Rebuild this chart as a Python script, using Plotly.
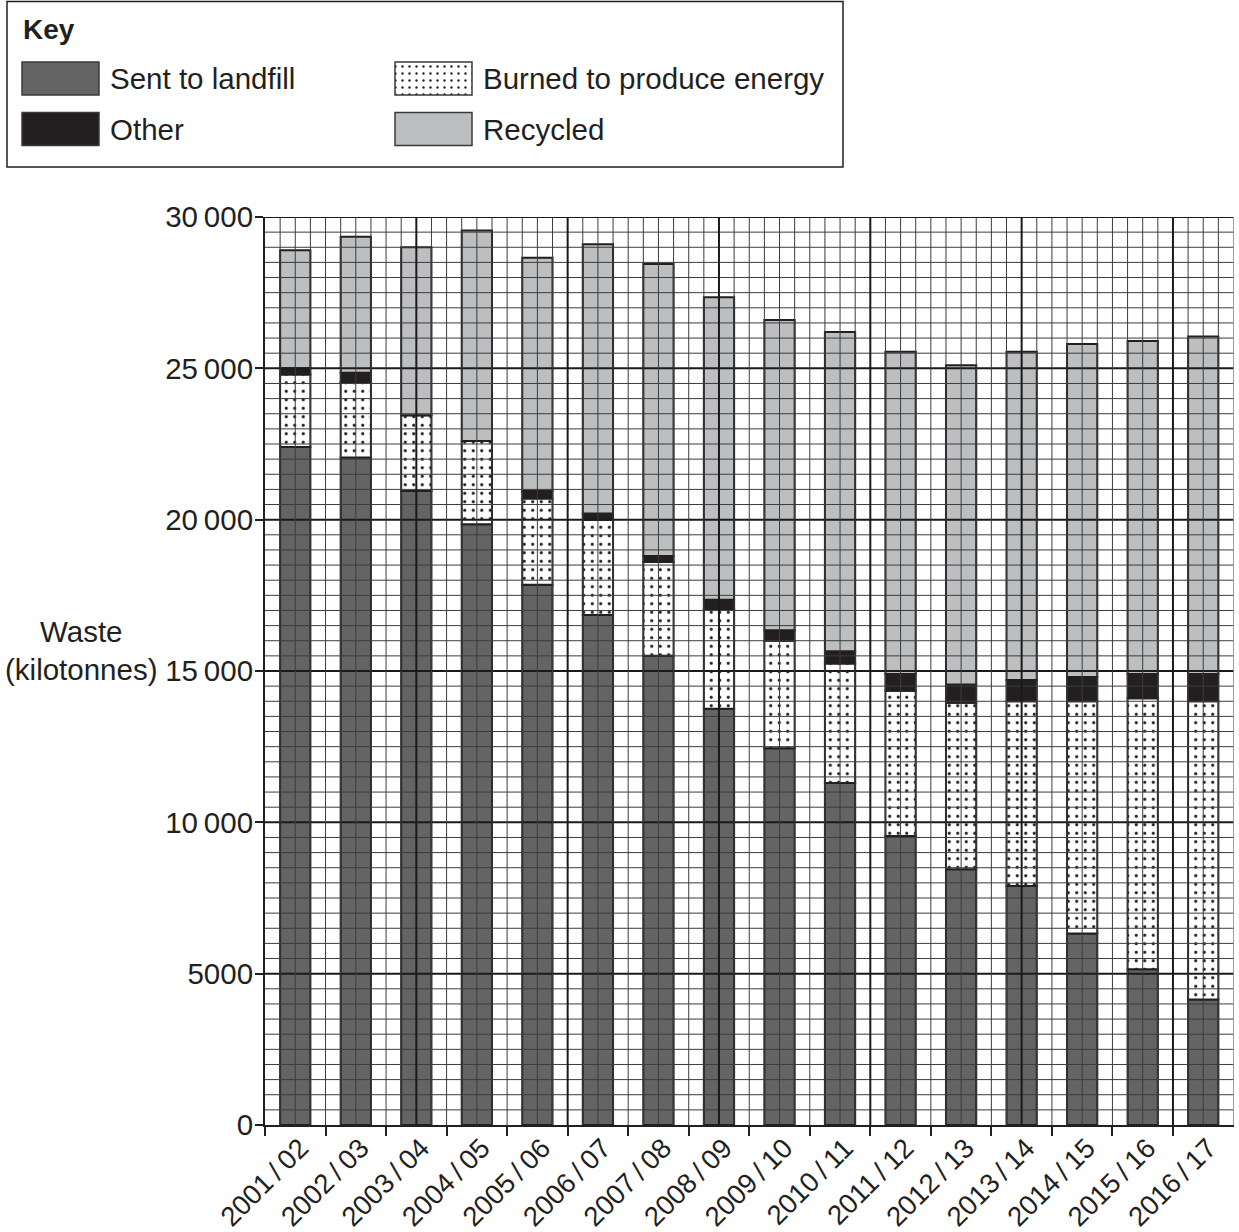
import plotly.graph_objects as go
import numpy as np

W, H = 1239, 1232

years = ["2001/02", "2002/03", "2003/04", "2004/05", "2005/06", "2006/07", "2007/08", "2008/09",
         "2009/10", "2010/11", "2011/12", "2012/13", "2013/14", "2014/15", "2015/16", "2016/17"]
landfill = [22400, 22050, 20950, 19850, 17850, 16850, 15500, 13750, 12450, 11300, 9550, 8450, 7900, 6330, 5150, 4150]
burned = [2400, 2500, 2500, 2750, 2850, 3150, 3100, 3300, 3550, 3950, 4800, 5500, 6100, 7670, 8950, 9850]
other = [200, 300, 0, 0, 250, 200, 200, 300, 350, 400, 550, 600, 700, 800, 800, 900]
recycled = [3900, 4500, 5550, 6950, 7700, 8900, 9650, 10000, 10250, 10550, 10650, 10550, 10850, 11000, 11000, 11150]

y_tickvals = [0, 5000, 10000, 15000, 20000, 25000, 30000]
y_ticktext = ["0", "5000", "10\u2009000", "15\u2009000", "20\u2009000", "25\u2009000", "30\u2009000"]

labels = [y.replace("/", "\u2009/\u2009") for y in years]

FONT = "Liberation Sans, Arial, sans-serif"
INK = "#231f20"
C_LAND = "#646464"
C_OTHER = "#231f20"
C_REC = "#bcbec0"
TXT = 29.5


def px(x):
    return x / W


def py(y):
    return 1 - y / H


base_b = np.array(landfill, dtype=float)
base_o = base_b + np.array(burned)
base_r = base_o + np.array(other)

outline = dict(color=INK, width=2)
dot_pattern = dict(shape=".", fgcolor=INK, bgcolor="white", size=8.5, solidity=0.11, fillmode="replace")
key_dot_pattern = dict(shape=".", fgcolor=INK, bgcolor="white", size=7, solidity=0.09, fillmode="replace")

fig = go.Figure()
fig.add_trace(go.Bar(x=labels, y=landfill, width=0.5, marker=dict(color=C_LAND, line=outline), showlegend=False))
fig.add_trace(go.Bar(x=labels, y=burned, base=base_b, width=0.5,
                     marker=dict(color="white", pattern=dot_pattern, line=outline), showlegend=False))
fig.add_trace(go.Bar(x=labels, y=other, base=base_o, width=0.5, marker=dict(color=C_OTHER, line=outline), showlegend=False))
fig.add_trace(go.Bar(x=labels, y=recycled, base=base_r, width=0.5, marker=dict(color=C_REC, line=outline), showlegend=False))

# Key swatches (on a separate pixel-space axis pair)
sw_line = dict(color="#3a3a3a", width=1.5)
key_items = [
    ("Sent to landfill", 22, 78.5, dict(color=C_LAND, line=sw_line)),
    ("Other", 22, 129, dict(color=C_OTHER, line=sw_line)),
    ("Burned to produce energy", 395, 78.5, dict(color="white", pattern=key_dot_pattern, line=sw_line)),
    ("Recycled", 395, 129, dict(color=C_REC, line=sw_line)),
]
for name, x0, yc, mk in key_items:
    fig.add_trace(go.Bar(x=[77], base=[x0], y=[yc], width=[33], orientation="h", marker=mk,
                         xaxis="x2", yaxis="y2", showlegend=False, hoverinfo="skip"))

MINOR = dict(color="#3c3c3c", width=1)
MAJOR = dict(color="#1a1a1a", width=2)
shapes = []
# Grid over the bars (graph paper)
for k in range(1, 61):
    shapes.append(dict(type="line", xref="x", yref="y", x0=-0.5, x1=15.5, y0=k * 500, y1=k * 500,
                       line=MAJOR if k % 10 == 0 else MINOR, layer="above"))
for j in range(1, 65):
    xv = -0.5 + j * 0.25
    shapes.append(dict(type="line", xref="x", yref="y", x0=xv, x1=xv, y0=0, y1=30000,
                       line=MAJOR if j % 10 == 0 else MINOR, layer="above"))
# Key box
shapes.append(dict(type="rect", xref="paper", yref="paper", x0=px(7), x1=px(843), y0=py(167), y1=py(1.5),
                   line=dict(color=INK, width=1.5), fillcolor="rgba(0,0,0,0)"))

annotations = [
    dict(text="<b>Key</b>", x=px(21), y=py(30), xref="paper", yref="paper", xanchor="left", yanchor="middle",
         showarrow=False, font=dict(size=28, color=INK, family=FONT)),
    dict(text="Waste<br>(kilotonnes)", x=px(81), y=py(650), xref="paper", yref="paper", xanchor="center",
         yanchor="middle", align="center", showarrow=False, font=dict(size=TXT, color=INK, family=FONT)),
]
for name, x0, yc, mk in key_items:
    annotations.append(dict(text=name, x=px(x0 + 86), y=py(yc), xref="paper", yref="paper", xanchor="left",
                            yanchor="middle", showarrow=False, font=dict(size=TXT, color=INK, family=FONT)))

fig.update_layout(
    width=W, height=H,
    autosize=False,
    margin=dict(l=0, r=0, t=0, b=0, pad=0, autoexpand=False),
    paper_bgcolor="white", plot_bgcolor="rgba(0,0,0,0)",
    barmode="overlay",
    font=dict(family=FONT, size=TXT, color=INK),
    xaxis=dict(domain=[px(265), px(1233.5)], type="category", range=[-0.5, 15.5], automargin=False,
               tickson="boundaries", ticks="outside", ticklen=9, tickwidth=2, tickcolor=INK,
               showline=True, linecolor=INK, linewidth=2, showgrid=False, zeroline=False,
               ticklabelstandoff=-6, ticklabelshift=5,
               tickangle=-45, tickfont=dict(size=27.5, color=INK), anchor="y"),
    yaxis=dict(domain=[py(1125), py(217)], range=[0, 30000], tickvals=y_tickvals, ticktext=y_ticktext,
               automargin=False, ticklabelstandoff=-4,
               ticks="outside", ticklen=8, tickwidth=2, tickcolor=INK, showline=True, linecolor=INK, linewidth=2,
               showgrid=False, zeroline=False, tickfont=dict(size=TXT, color=INK), anchor="x"),
    xaxis2=dict(domain=[0, px(845)], range=[0, 845], visible=False, anchor="y2", fixedrange=True, automargin=False),
    yaxis2=dict(domain=[py(168), 1], range=[168, 0], visible=False, anchor="x2", fixedrange=True, automargin=False),
    shapes=shapes,
    annotations=annotations,
)

# remove the browser's default 8px body margin so the figure fills the window exactly
fig.write_html("out.html", config={"displayModeBar": False},
               post_script="document.body.style.margin='0';document.body.style.overflow='hidden';")
